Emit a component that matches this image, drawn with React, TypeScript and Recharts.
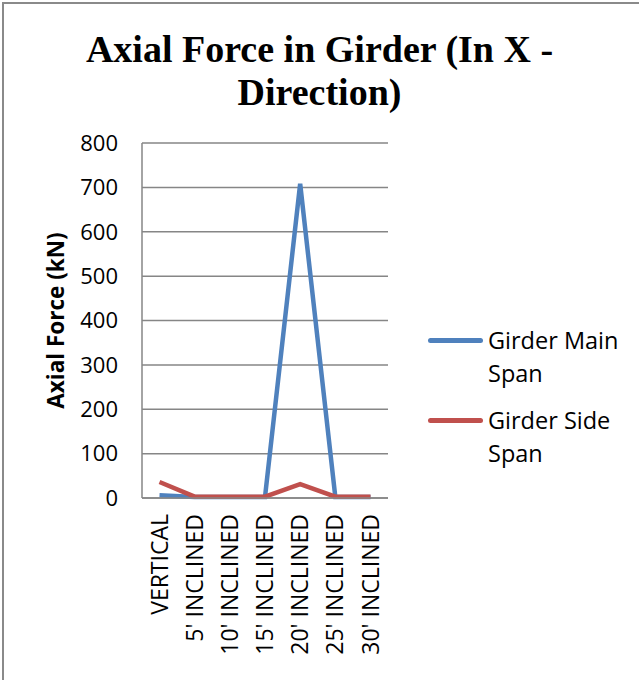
import { LineChart, Line, XAxis, YAxis, CartesianGrid } from "recharts";

const categories = [
  "VERTICAL",
  "5' INCLINED",
  "10' INCLINED",
  "15' INCLINED",
  "20' INCLINED",
  "25' INCLINED",
  "30' INCLINED",
];
const mainSpan = [6, 2, 2, 2, 708, 2, 2];
const sideSpan = [36, 3, 3, 3, 31, 3, 3];
const yTicks = [0, 100, 200, 300, 400, 500, 600, 700, 800];

const data = categories.map((name, i) => ({
  name,
  main: mainSpan[i],
  side: sideSpan[i],
}));

const series = [
  { key: "main", label: ["Girder Main", "Span"], color: "#4F81BD" },
  { key: "side", label: ["Girder Side", "Span"], color: "#C0504D" },
];

const sansFont = "'Open Sans', 'Liberation Sans', sans-serif";

// vertical category label, reading bottom to top, top end just under the axis
function CategoryTick(props: any) {
  const { x, y, payload } = props;
  return (
    <text
      x={0}
      y={0}
      transform={`translate(${x - 1},${y + 14}) rotate(-90)`}
      textAnchor="end"
      dominantBaseline="central"
      fontSize={23}
      fontFamily={sansFont}
      fill="#000"
    >
      {payload.value}
    </text>
  );
}

function LegendBox() {
  return (
    <div style={{ fontFamily: sansFont, fontSize: 23.5, color: "#000", lineHeight: "33px" }}>
      {series.map((s, i) => (
        <div key={s.key} style={{ display: "flex", alignItems: "flex-start", marginBottom: i === 0 ? 14 : 0 }}>
          <div
            style={{
              width: 55,
              height: 5,
              borderRadius: 3,
              background: s.color,
              marginTop: 14,
              marginRight: 5,
            }}
          />
          <div>
            {s.label.map((t) => (
              <div key={t}>{t}</div>
            ))}
          </div>
        </div>
      ))}
    </div>
  );
}

export default function App() {
  return (
    <div
      style={{
        position: "absolute",
        left: 0,
        top: 0,
        width: 639,
        height: 680,
        overflow: "hidden",
        background: "#fff",
      }}
    >
      <div
        style={{
          position: "absolute",
          left: 2,
          top: 2,
          width: 700,
          height: 720,
          borderLeft: "2px solid #8a8a8a",
          borderTop: "2px solid #8a8a8a",
        }}
      />
      <div
        style={{
          position: "absolute",
          left: 0,
          top: 28,
          width: 639,
          textAlign: "center",
          fontFamily: "'Liberation Serif', 'Times New Roman', serif",
          fontWeight: "bold",
          fontSize: 38,
          lineHeight: "43px",
        }}
      >
        Axial Force in Girder (In X -<br />
        Direction)
      </div>
      <div style={{ position: "absolute", left: 0, top: 0 }}>
        <LineChart
          width={639}
          height={680}
          data={data}
          margin={{ top: 143, right: 251, bottom: 12, left: 82 }}
        >
          <CartesianGrid vertical={false} stroke="#868686" strokeWidth={1.5} />
          <XAxis
            dataKey="name"
            interval={0}
            height={170}
            padding={{ left: 17.5, right: 17.5 }}
            stroke="#868686"
            strokeWidth={1.5}
            tickLine={false}
            tickSize={0}
            tick={<CategoryTick />}
          />
          <YAxis
            width={60}
            domain={[0, 800]}
            ticks={yTicks}
            stroke="#868686"
            strokeWidth={1.5}
            tickLine={false}
            tickSize={0}
            tickMargin={24}
            tick={{ fill: "#000", fontSize: 22, fontFamily: sansFont }}
            label={{
              value: "Axial Force (kN)",
              angle: -90,
              position: "insideLeft",
              offset: -10,
              dx: -16,
              style: { textAnchor: "middle", fontWeight: "bold", fontSize: 22.5, fontFamily: sansFont, fill: "#000" },
            }}
          />
          {series.map((s) => (
            <Line
              key={s.key}
              type="linear"
              dataKey={s.key}
              stroke={s.color}
              strokeWidth={4.5}
              dot={false}
              activeDot={false}
              isAnimationActive={false}
            />
          ))}
        </LineChart>
      </div>
      <div style={{ position: "absolute", left: 428, top: 324 }}>
        <LegendBox />
      </div>
    </div>
  );
}
